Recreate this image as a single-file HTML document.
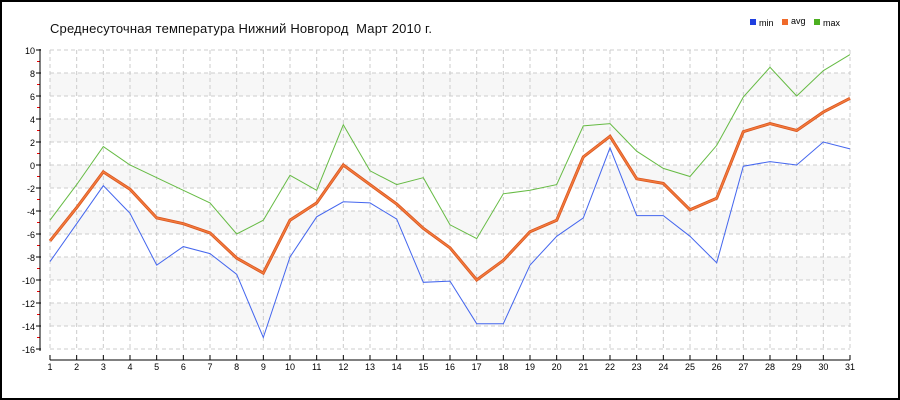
<!DOCTYPE html>
<html><head><meta charset="utf-8"><style>
html,body{margin:0;padding:0;background:#fff}
svg{display:block;font-family:"Liberation Sans",sans-serif}
</style></head><body>
<svg id="s" width="900" height="400" xmlns="http://www.w3.org/2000/svg">
<rect x="1" y="1" width="898" height="398" fill="#fff" stroke="#000" stroke-width="2"/>
<text x="50" y="33" font-size="13" fill="#111" style="white-space:pre" textLength="382">Среднесуточная температура Нижний Новгород  Март 2010 г.</text>
<rect x="750" y="19" width="6" height="6" fill="#1f3fe0"/><text x="759" y="26" font-size="9">min</text>
<rect x="782" y="19" width="6" height="6" fill="#f06a2a"/><text x="791" y="24" font-size="9">avg</text>
<rect x="814" y="19" width="6" height="6" fill="#4caf20"/><text x="823" y="26" font-size="9">max</text>
<g id="g"></g>
</svg>
<script>
var g=document.getElementById('g'),h='';
function Y(v){return 165-11.5*v}function X(d){return 50+(d-1)*800/30}
for(var v=8;v>-16;v-=4){h+='<rect x="50" y="'+Y(v)+'" width="800" height="23" fill="#f7f7f7"/>';}
for(var v=10;v>=-16;v-=2){h+='<line x1="50" x2="850" y1="'+Y(v)+'" y2="'+Y(v)+'" stroke="#ccc" stroke-dasharray="4,3"/>';
h+='<line x1="36" x2="41" y1="'+Y(v)+'" y2="'+Y(v)+'" stroke="#000"/>';
h+='<text x="35" y="'+(Y(v)+4)+'" font-size="9" text-anchor="end">'+v+'</text>';
if(v>-16)h+='<line x1="37" x2="40" y1="'+Y(v-1)+'" y2="'+Y(v-1)+'" stroke="#e00"/>';}
for(var d=1;d<=31;d++){var x=X(d);h+='<line x1="'+x+'" x2="'+x+'" y1="50" y2="350" stroke="#ccc" stroke-dasharray="4,3"/>';
h+='<line x1="'+x+'" x2="'+x+'" y1="355" y2="360" stroke="#000"/>';
h+='<text x="'+x+'" y="370" font-size="9" text-anchor="middle">'+d+'</text>';}
h+='<line x1="40" x2="40" y1="49" y2="351" stroke="#000"/><line x1="50" x2="850" y1="360" y2="360" stroke="#000"/>';
var mn=[-8.4,-5.1,-1.8,-4.2,-8.7,-7.1,-7.7,-9.5,-15,-8,-4.5,-3.2,-3.3,-4.7,-10.2,-10.1,-13.8,-13.8,-8.7,-6.2,-4.6,1.5,-4.4,-4.4,-6.2,-8.5,-0.1,0.3,0,2,1.4];
var av=[-6.6,-3.7,-0.6,-2.1,-4.6,-5.1,-5.9,-8.1,-9.4,-4.8,-3.3,0,-1.7,-3.4,-5.5,-7.2,-10,-8.3,-5.8,-4.8,0.7,2.5,-1.2,-1.6,-3.9,-2.9,2.9,3.6,3,4.6,5.8];
var mx=[-4.8,-1.7,1.6,0,-1.1,-2.2,-3.3,-6,-4.8,-0.9,-2.2,3.5,-0.5,-1.7,-1.1,-5.2,-6.4,-2.5,-2.2,-1.7,3.4,3.6,1.2,-0.3,-1,1.7,5.9,8.5,6,8.2,9.6];
function P(a,c,w){return '<polyline fill="none" stroke="'+c+'" stroke-width="'+w+'" points="'+a.map(function(v,i){return X(i+1).toFixed(1)+','+Y(v).toFixed(1)}).join(' ')+'"/>'}
h+=P(mn,'#4466ee',1)+P(mx,'#66bb44',1)+P(av,'#d9541e',3)+P(av,'#f27a3c',1.5);
g.innerHTML=h;
</script>
</body></html>
